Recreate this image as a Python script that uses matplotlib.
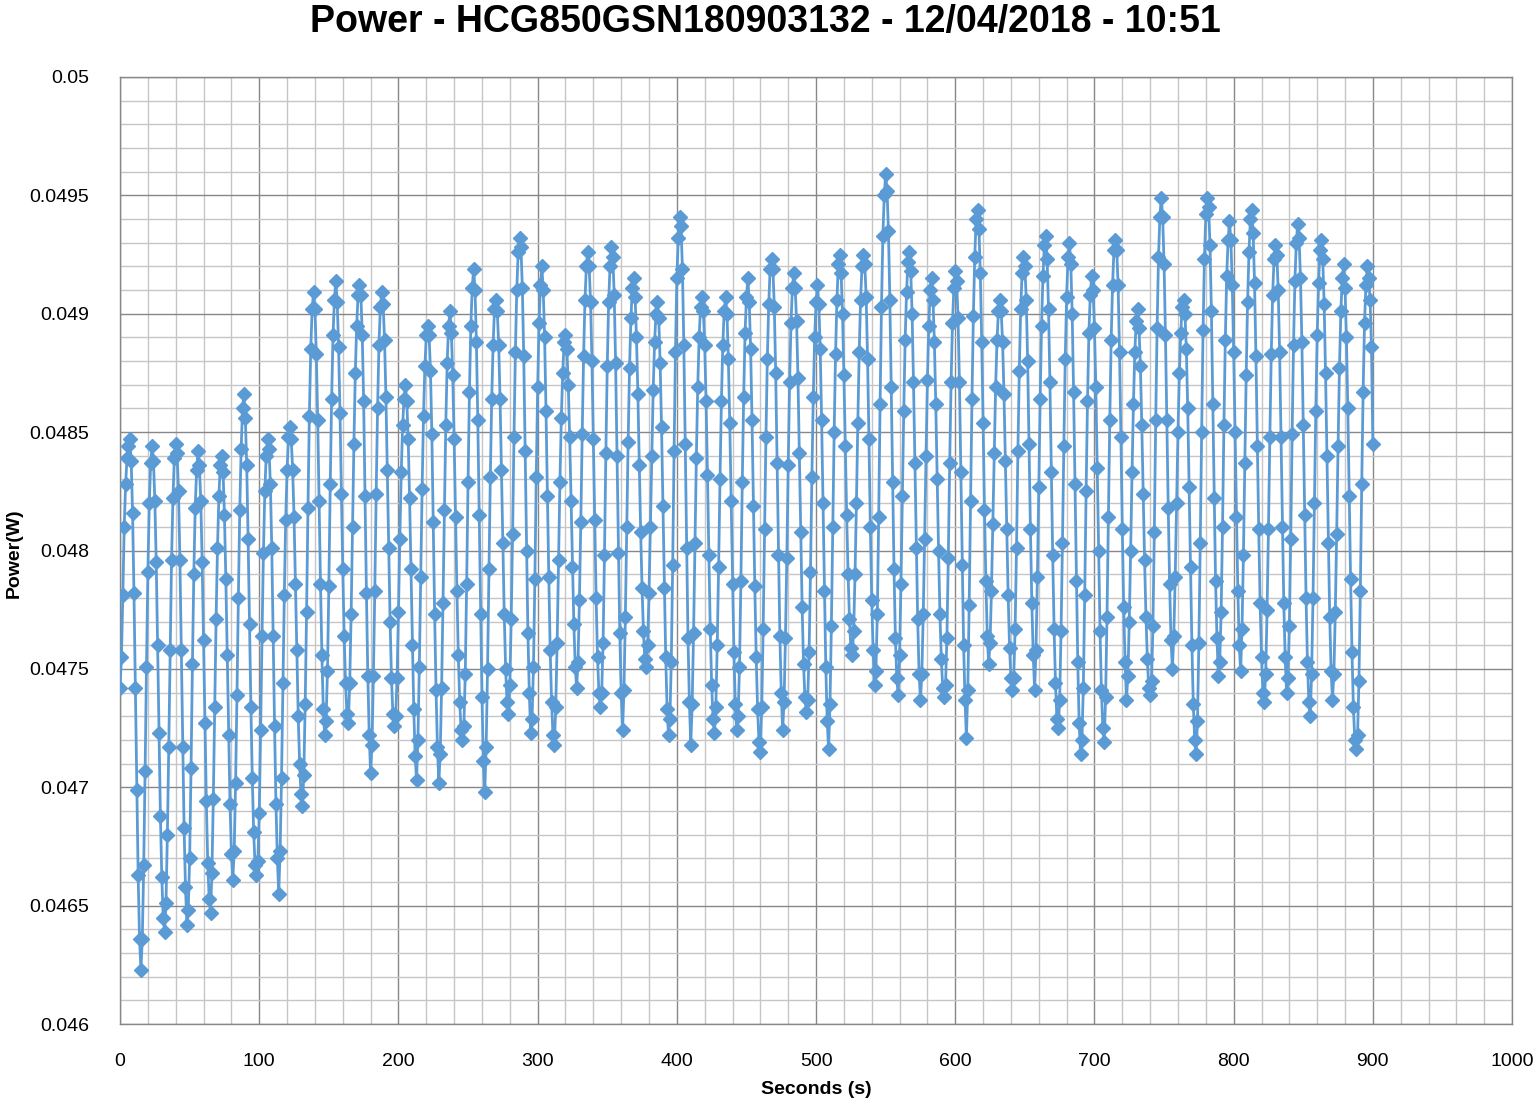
import numpy as np
import matplotlib
matplotlib.use("Agg")
import matplotlib.pyplot as plt
from matplotlib.ticker import MultipleLocator, FuncFormatter

# power readings, one per second, in units of 1e-5 W
power_000 = [4742, 4755, 4781, 4810, 4828, 4839, 4844, 4847,
             4838, 4816, 4782, 4742, 4699, 4663, 4636, 4623,
             4636, 4667, 4707, 4751, 4791, 4820, 4837, 4844,
             4838, 4821, 4795, 4760, 4723, 4688, 4662, 4645, 4639,
             4651, 4680, 4717, 4758, 4796, 4822, 4839, 4845,
             4841, 4825, 4796, 4758, 4717, 4683, 4658, 4642,
             4648, 4670, 4708, 4752, 4790, 4818, 4834, 4842,
             4836, 4821, 4795, 4762, 4727, 4694, 4668, 4653, 4647,
             4664, 4695, 4734, 4771, 4801, 4823, 4836, 4840,
             4833, 4815, 4788, 4756, 4722, 4693, 4672, 4661,
             4673, 4702, 4739, 4780, 4817, 4843, 4860, 4866,
             4856, 4836, 4805, 4769, 4734, 4704, 4681, 4667, 4663,
             4669]
power_100 = [4689, 4724, 4764, 4799, 4825, 4840, 4847,
             4843, 4828, 4801, 4764, 4726, 4693, 4670, 4655,
             4673, 4704, 4744, 4781, 4813, 4834, 4848, 4852,
             4847, 4834, 4814, 4786, 4758, 4730, 4710, 4697, 4692,
             4705, 4735, 4774, 4818, 4857, 4885, 4902, 4909,
             4902, 4883, 4855, 4821, 4786, 4756, 4733, 4722,
             4728, 4749, 4785, 4828, 4864, 4891, 4906, 4914,
             4905, 4886, 4858, 4824, 4792, 4764, 4744, 4731, 4727,
             4744, 4773, 4810, 4845, 4875, 4895, 4908, 4912,
             4908, 4891, 4863, 4823, 4782, 4747, 4722, 4706,
             4718, 4747, 4783, 4824, 4860, 4887, 4903, 4909,
             4904, 4889, 4865, 4834, 4801, 4770, 4746, 4731, 4726,
             4730, 4746]
power_200 = [4774, 4805, 4833, 4853, 4864, 4870,
             4863, 4847, 4822, 4792, 4760, 4733, 4713, 4703,
             4720, 4751, 4789, 4826, 4857, 4878, 4891, 4895,
             4891, 4876, 4849, 4812, 4773, 4741, 4717, 4702,
             4714, 4742, 4778, 4817, 4853, 4879, 4895, 4901,
             4892, 4874, 4847, 4814, 4783, 4756, 4736, 4724, 4720,
             4726, 4748, 4786, 4829, 4867, 4895, 4911, 4919,
             4910, 4888, 4855, 4815, 4773, 4738, 4711, 4698,
             4717, 4750, 4792, 4831, 4864, 4887, 4902, 4906,
             4901, 4887, 4864, 4834, 4803, 4773, 4750, 4736, 4731,
             4743, 4771, 4807, 4848, 4884, 4910, 4926, 4932,
             4928, 4911, 4882, 4842, 4800, 4765, 4740, 4723,
             4729, 4751, 4788, 4831]
power_300 = [4869, 4896, 4912, 4920,
             4910, 4890, 4859, 4823, 4789, 4758, 4736, 4722, 4718,
             4734, 4761, 4796, 4829, 4856, 4875, 4888, 4891,
             4885, 4870, 4848, 4821, 4793, 4769, 4751, 4742,
             4753, 4779, 4812, 4849, 4882, 4906, 4920, 4926,
             4920, 4905, 4880, 4847, 4813, 4780, 4755, 4740, 4734,
             4740, 4761, 4798, 4841, 4878, 4905, 4920, 4928,
             4924, 4908, 4879, 4840, 4799, 4765, 4740, 4724,
             4741, 4772, 4810, 4846, 4877, 4898, 4911, 4915,
             4907, 4890, 4866, 4836, 4808, 4784, 4766, 4754, 4751,
             4760, 4782, 4810, 4840, 4868, 4888, 4900, 4905,
             4898, 4879, 4852, 4819, 4784, 4755, 4733, 4722,
             4729, 4753, 4794, 4842, 4884]
power_400 = [4915, 4932, 4941,
             4937, 4919, 4887, 4845, 4801, 4763, 4736, 4718,
             4735, 4765, 4803, 4839, 4869, 4890, 4903, 4907,
             4901, 4887, 4863, 4832, 4798, 4767, 4743, 4729, 4723,
             4734, 4760, 4793, 4830, 4863, 4887, 4901, 4907,
             4900, 4881, 4854, 4821, 4786, 4757, 4735, 4724,
             4730, 4751, 4787, 4829, 4865, 4892, 4907, 4915,
             4905, 4885, 4855, 4819, 4785, 4755, 4733, 4719, 4715,
             4734, 4767, 4809, 4848, 4881, 4904, 4919, 4923,
             4919, 4903, 4875, 4837, 4798, 4764, 4740, 4724,
             4736, 4763, 4797, 4836, 4871, 4896, 4911, 4917,
             4911, 4897, 4873, 4841, 4808, 4776, 4752, 4738, 4732,
             4737, 4757, 4791, 4831, 4865, 4890]
power_500 = [4905, 4912,
             4904, 4885, 4855, 4820, 4783, 4751, 4728, 4716,
             4735, 4768, 4810, 4850, 4883, 4906, 4921, 4925,
             4917, 4900, 4874, 4844, 4815, 4790, 4771, 4759, 4756,
             4766, 4790, 4820, 4854, 4884, 4906, 4920, 4925,
             4921, 4907, 4881, 4847, 4810, 4779, 4758, 4743,
             4749, 4773, 4814, 4862, 4903, 4933, 4950, 4959,
             4952, 4935, 4906, 4869, 4829, 4792, 4763, 4746, 4739,
             4756, 4786, 4823, 4859, 4889, 4909, 4922, 4926,
             4918, 4900, 4871, 4837, 4801, 4771, 4748, 4737,
             4748, 4773, 4805, 4840, 4872, 4895, 4910, 4915,
             4906, 4888, 4862, 4830, 4800, 4773, 4754, 4742, 4738,
             4743, 4763, 4797, 4837, 4871, 4896, 4911]
power_600 = [4918,
             4914, 4898, 4871, 4833, 4794, 4760, 4737, 4721,
             4741, 4777, 4821, 4864, 4899, 4924, 4940, 4944,
             4936, 4917, 4888, 4854, 4817, 4787, 4764, 4752,
             4761, 4783, 4811, 4841, 4869, 4889, 4901, 4906,
             4901, 4888, 4866, 4838, 4809, 4781, 4759, 4746, 4741,
             4746, 4767, 4801, 4842, 4876, 4902, 4917, 4924,
             4920, 4906, 4880, 4845, 4809, 4778, 4756, 4741,
             4758, 4789, 4827, 4864, 4895, 4916, 4929, 4933,
             4923, 4902, 4871, 4833, 4798, 4767, 4744, 4729, 4725,
             4737, 4766, 4803, 4844, 4881, 4907, 4924, 4930,
             4921, 4900, 4867, 4828, 4787, 4753, 4727, 4714,
             4720, 4742, 4781, 4825, 4863, 4892, 4908, 4916,
             4910]
power_700 = [4894, 4869, 4835, 4800, 4766, 4741, 4725, 4719,
             4738, 4772, 4814, 4855, 4889, 4912, 4927, 4931,
             4927, 4912, 4884, 4848, 4809, 4776, 4753, 4737,
             4747, 4770, 4800, 4833, 4862, 4884, 4897, 4902,
             4894, 4878, 4853, 4824, 4796, 4772, 4754, 4742, 4739,
             4745, 4768, 4808, 4855, 4894, 4924, 4941, 4949,
             4941, 4921, 4891, 4855, 4818, 4786, 4762, 4750,
             4764, 4789, 4820, 4850, 4875, 4892, 4903, 4906,
             4900, 4885, 4860, 4827, 4793, 4760, 4735, 4720, 4714,
             4728, 4761, 4803, 4850, 4893, 4923, 4942, 4949,
             4945, 4929, 4901, 4862, 4822, 4787, 4763, 4747,
             4753, 4774, 4810, 4853, 4889, 4916, 4931, 4939,
             4931, 4912]
power_800 = [4884, 4850, 4814, 4783, 4760, 4749,
             4767, 4798, 4837, 4874, 4905, 4926, 4940, 4944,
             4934, 4913, 4882, 4844, 4809, 4778, 4755, 4740, 4736,
             4748, 4775, 4809, 4848, 4883, 4908, 4923, 4929,
             4925, 4910, 4884, 4848, 4810, 4778, 4755, 4740,
             4746, 4768, 4805, 4849, 4887, 4914, 4930, 4938,
             4932, 4915, 4888, 4853, 4815, 4780, 4753, 4736, 4730,
             4748, 4780, 4820, 4859, 4891, 4913, 4927, 4931,
             4923, 4904, 4875, 4840, 4803, 4772, 4749, 4737,
             4748, 4774, 4807, 4844, 4877, 4901, 4915, 4921,
             4911, 4890, 4860, 4823, 4788, 4757, 4734, 4720, 4716,
             4722, 4745, 4783, 4828, 4867, 4896, 4912, 4920,
             4915, 4906, 4886, 4845]

power = np.array(power_000 + power_100 + power_200 + power_300 + power_400
                 + power_500 + power_600 + power_700 + power_800) * 1e-5
seconds = np.arange(len(power))

title = "Power - HCG850GSN180903132 - 12/04/2018 - 10:51"
font = "Liberation Sans"
blue = "#5B9BD5"

fig = plt.figure(figsize=(15.39, 11.06), dpi=100)
ax = fig.add_axes([0.078, 0.0741, 0.9045, 0.8563])

ax.plot(seconds, power, color=blue, lw=2.0, marker="D", markersize=7,
        markerfacecolor=blue, markeredgecolor=blue, zorder=3)

ax.set_xlim(0, 1000)
ax.set_ylim(0.046, 0.05)
ax.xaxis.set_major_locator(MultipleLocator(100))
ax.xaxis.set_minor_locator(MultipleLocator(20))
ax.yaxis.set_major_locator(MultipleLocator(0.0005))
ax.yaxis.set_minor_locator(MultipleLocator(0.0001))
ax.yaxis.set_major_formatter(FuncFormatter(lambda v, p: "%g" % round(v, 6)))

ax.grid(which="major", color="#878787", lw=1.0, zorder=0)
ax.grid(which="minor", color="#c6c6c6", lw=1.0, zorder=0)
ax.set_axisbelow(True)
for s in ax.spines.values():
    s.set_color("#878787")
    s.set_linewidth(1.0)
ax.tick_params(which="both", length=0, labelsize=14, labelcolor="#000000")
ax.tick_params(axis="y", pad=22)
ax.tick_params(axis="x", pad=21)
for lab in ax.get_xticklabels() + ax.get_yticklabels():
    lab.set_fontfamily(font)

ax.set_xlabel("Seconds (s)", fontsize=14, fontweight="bold", family=font, labelpad=8)
fig.text(0.0095, 0.5, "Power(W)", rotation=90, ha="center", va="center",
         fontsize=14, fontweight="bold", family=font)
fig.text(0.497, 0.980, title, ha="center", va="center",
         fontsize=27, fontweight="bold", family=font)

fig.savefig("out.png", dpi=100)
